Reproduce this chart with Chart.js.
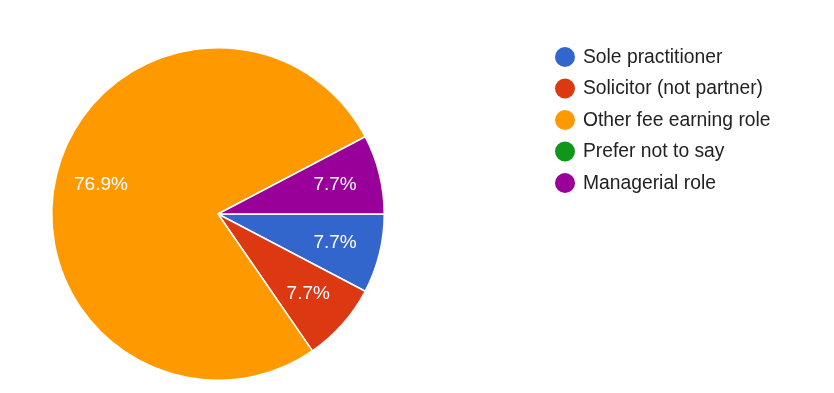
<!DOCTYPE html>
<html>
<head>
<meta charset="utf-8">
<script src="https://cdn.jsdelivr.net/npm/chart.js@4/dist/chart.umd.min.js"></script>
<style>
  html, body { margin: 0; padding: 0; background: #ffffff; }
  #wrap { width: 834px; height: 393px; position: relative; }
</style>
</head>
<body>
<div id="wrap"><canvas id="c" width="834" height="393"></canvas></div>
<script>
const categories = ["Sole practitioner", "Solicitor (not partner)", "Other fee earning role", "Prefer not to say", "Managerial role"];
const counts = [1, 1, 10, 0, 1];
const sliceColors = ["#3366cc", "#dc3912", "#ff9900", "#109618", "#990099"];

const FONT = "'Liberation Sans', Arial, sans-serif";

const labelPlugin = {
  id: 'sliceLabels',
  afterDatasetsDraw(chart) {
    const ctx = chart.ctx;
    const meta = chart.getDatasetMeta(0);
    const data = chart.data.datasets[0].data;
    const total = data.reduce((a, b) => a + b, 0);
    ctx.save();
    ctx.font = "19px " + FONT;
    ctx.fillStyle = "#ffffff";
    ctx.textAlign = "center";
    ctx.textBaseline = "middle";
    meta.data.forEach((arc, i) => {
      const v = data[i];
      if (!v) return;
      const p = arc.getProps(['x', 'y', 'startAngle', 'endAngle', 'outerRadius'], true);
      const mid = (p.startAngle + p.endAngle) / 2;
      const r = p.outerRadius * 0.725;
      const x = p.x + Math.cos(mid) * r;
      const y = p.y + Math.sin(mid) * r;
      ctx.fillText((v / total * 100).toFixed(1) + "%", x, y);
    });
    ctx.restore();
  }
};

const legendPlugin = {
  id: 'sideLegend',
  afterDraw(chart) {
    const ctx = chart.ctx;
    const labels = chart.data.labels;
    const colors = chart.data.datasets[0].backgroundColor;
    ctx.save();
    ctx.font = "19.3px " + FONT;
    ctx.textAlign = "left";
    ctx.textBaseline = "middle";
    labels.forEach((lab, i) => {
      const cy = 57 + i * 31.5;
      ctx.beginPath();
      ctx.arc(565, cy, 10, 0, Math.PI * 2);
      ctx.fillStyle = colors[i];
      ctx.fill();
      ctx.fillStyle = "#222222";
      ctx.fillText(lab, 583, cy + 0.5);
    });
    ctx.restore();
  }
};

new Chart(document.getElementById('c'), {
  type: 'pie',
  data: {
    labels: categories,
    datasets: [{
      data: counts,
      backgroundColor: sliceColors,
      borderColor: "#ffffff",
      borderWidth: 1.5
    }]
  },
  options: {
    responsive: false,
    animation: false,
    events: [],
    rotation: 90,
    layout: { padding: { left: 51, right: 449, top: 47, bottom: 12 } },
    plugins: {
      legend: { display: false },
      tooltip: { enabled: false }
    }
  },
  plugins: [labelPlugin, legendPlugin]
});
</script>
</body>
</html>
